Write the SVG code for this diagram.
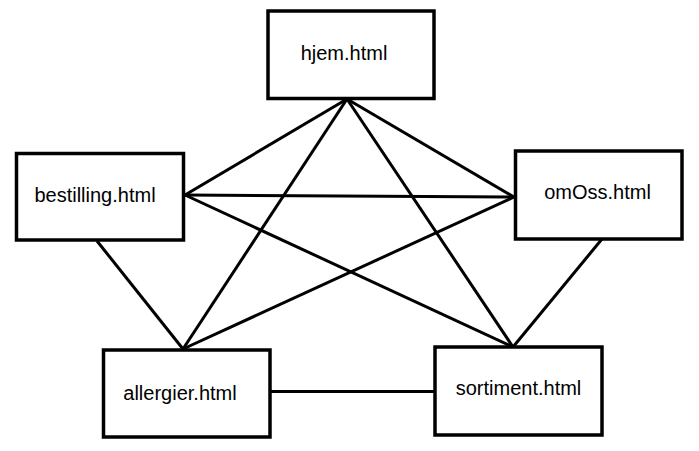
<svg xmlns="http://www.w3.org/2000/svg" width="699" height="451" viewBox="0 0 699 451">
<style>
.box{fill:#fff;stroke:#000;stroke-width:3.5}
.lbl{font-family:"Liberation Sans",Arial,sans-serif;font-size:20px;fill:#000;text-anchor:middle}
.edge{stroke:#000;stroke-width:3;fill:none}
</style>
<rect width="699" height="451" fill="#fff"/>
<g id="connectors">
<line class="edge" x1="347" y1="99" x2="185" y2="195"/>
<line class="edge" x1="347" y1="99" x2="514" y2="197"/>
<line class="edge" x1="347" y1="99" x2="183" y2="349"/>
<line class="edge" x1="347" y1="99" x2="513" y2="347"/>
<line class="edge" x1="185" y1="195" x2="514" y2="197"/>
<line class="edge" x1="185" y1="195" x2="513" y2="347"/>
<line class="edge" x1="514" y1="197" x2="183" y2="349"/>
<line class="edge" x1="97" y1="241" x2="183" y2="349"/>
<line class="edge" x1="602" y1="239" x2="513" y2="347"/>
<line class="edge" x1="270" y1="391.5" x2="435" y2="391.5"/>
</g>
<g id="hjem">
<rect class="box" x="268" y="11" width="166" height="87.5"/>
<text class="lbl" x="344" y="60">hjem.html</text>
</g>
<g id="bestilling">
<rect class="box" x="16.5" y="153.5" width="167" height="86.5"/>
<text class="lbl" x="95" y="202">bestilling.html</text>
</g>
<g id="omOss">
<rect class="box" x="515.5" y="151" width="166.5" height="88"/>
<text class="lbl" x="597.5" y="199">omOss.html</text>
</g>
<g id="allergier">
<rect class="box" x="103.5" y="350" width="166.5" height="87"/>
<text class="lbl" x="180" y="400">allergier.html</text>
</g>
<g id="sortiment">
<rect class="box" x="435" y="347" width="167" height="88"/>
<text class="lbl" x="518.5" y="395">sortiment.html</text>
</g>
</svg>
